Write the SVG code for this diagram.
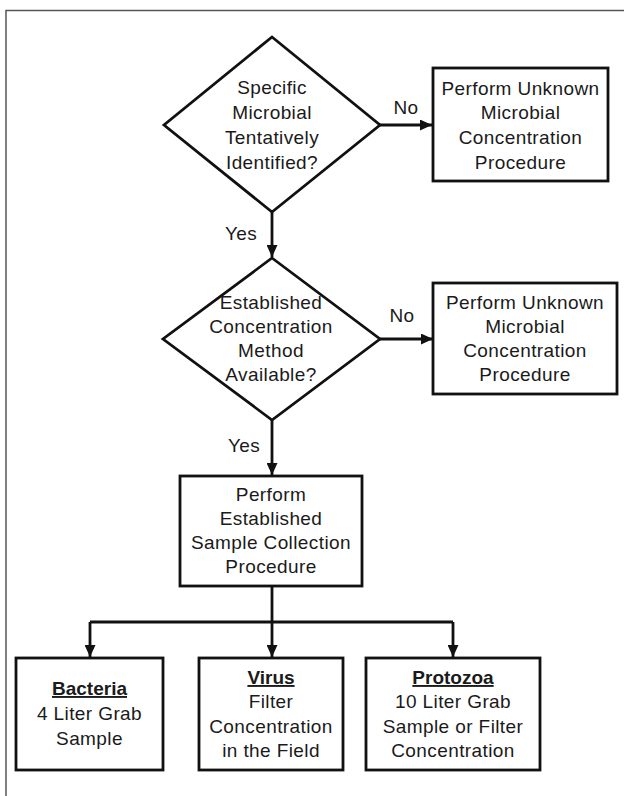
<svg xmlns="http://www.w3.org/2000/svg" width="624" height="796" viewBox="0 0 624 796">
<style>
.frame{fill:none;stroke:#555;stroke-width:1.5}
.shape{fill:#fff;stroke:#111;stroke-width:2.8}
.conn{fill:none;stroke:#111;stroke-width:2.8}
text{font-family:"Liberation Sans",Arial,sans-serif;font-size:19px;fill:#1a1a1a;text-anchor:middle;letter-spacing:0.4px}
.b{font-weight:bold;text-decoration:underline;letter-spacing:0}
</style>
<defs>
<marker id="ah" markerUnits="userSpaceOnUse" markerWidth="12" markerHeight="11" refX="12" refY="5.5" orient="auto">
<path d="M0,0 L12,5.5 L0,11 z" fill="#111"/>
</marker>
</defs>
<rect width="624" height="796" fill="#fff"/>
<path class="frame" d="M6,796 V10.5 H624"/>
<g id="connectors">
<path class="conn" d="M272,212 V257" marker-end="url(#ah)"/>
<path class="conn" d="M380,125 H432" marker-end="url(#ah)"/>
<path class="conn" d="M380,339 H433" marker-end="url(#ah)"/>
<path class="conn" d="M272,420 V475" marker-end="url(#ah)"/>
<path class="conn" d="M272,586 V622"/>
<path class="conn" d="M90,622 H453"/>
<path class="conn" d="M90,622 V657" marker-end="url(#ah)"/>
<path class="conn" d="M272,622 V657" marker-end="url(#ah)"/>
<path class="conn" d="M453,622 V657" marker-end="url(#ah)"/>
<text x="406" y="114">No</text>
<text x="241" y="240">Yes</text>
<text x="402" y="322">No</text>
<text x="244" y="452">Yes</text>
</g>
<g id="decision1">
<polygon class="shape" points="272,37 380,125 272,212 164,125"/>
<text x="272" y="94">Specific</text>
<text x="272" y="119">Microbial</text>
<text x="272" y="144">Tentatively</text>
<text x="272" y="169">Identified?</text>
</g>
<g id="unknown1">
<rect class="shape" x="433" y="68" width="175" height="113"/>
<text x="520.5" y="95">Perform Unknown</text>
<text x="520.5" y="119">Microbial</text>
<text x="520.5" y="144">Concentration</text>
<text x="520.5" y="169">Procedure</text>
</g>
<g id="decision2">
<polygon class="shape" points="272,258 380,339 272,420 163,339"/>
<text x="271" y="309">Established</text>
<text x="271" y="333">Concentration</text>
<text x="271" y="357">Method</text>
<text x="271" y="381">Available?</text>
</g>
<g id="unknown2">
<rect class="shape" x="433" y="283" width="184" height="111"/>
<text x="525" y="309">Perform Unknown</text>
<text x="525" y="333">Microbial</text>
<text x="525" y="357">Concentration</text>
<text x="525" y="381">Procedure</text>
</g>
<g id="established">
<rect class="shape" x="180" y="476" width="182" height="110"/>
<text x="271" y="501">Perform</text>
<text x="271" y="525">Established</text>
<text x="271" y="549">Sample Collection</text>
<text x="271" y="573">Procedure</text>
</g>
<g id="bacteria">
<rect class="shape" x="16" y="658" width="147" height="112"/>
<text class="b" x="89.5" y="695">Bacteria</text>
<text x="89.5" y="720">4 Liter Grab</text>
<text x="89.5" y="745">Sample</text>
</g>
<g id="virus">
<rect class="shape" x="199" y="658" width="144" height="112"/>
<text class="b" x="271" y="684">Virus</text>
<text x="271" y="708">Filter</text>
<text x="271" y="733">Concentration</text>
<text x="271" y="757">in the Field</text>
</g>
<g id="protozoa">
<rect class="shape" x="366" y="658" width="174" height="112"/>
<text class="b" x="453" y="684">Protozoa</text>
<text x="453" y="708">10 Liter Grab</text>
<text x="453" y="733">Sample or Filter</text>
<text x="453" y="757">Concentration</text>
</g>
</svg>
